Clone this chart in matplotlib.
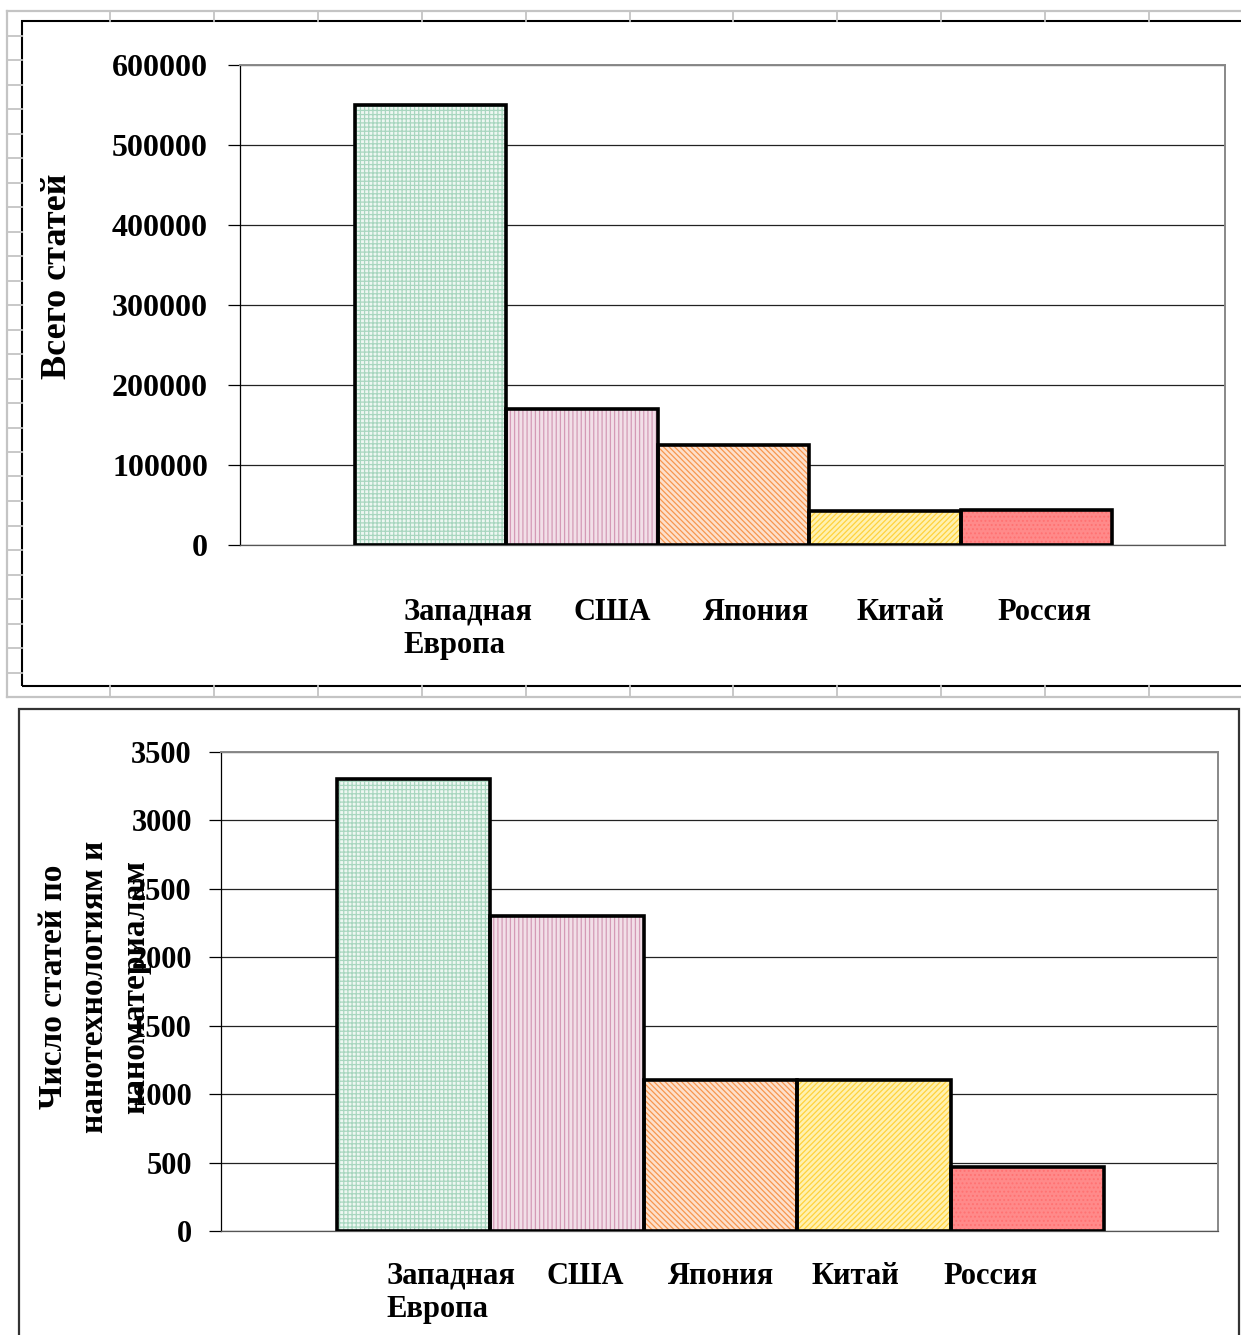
import matplotlib
matplotlib.use('Agg')
import matplotlib.pyplot as plt
from matplotlib.patches import Rectangle
from matplotlib.lines import Line2D
import numpy as np

plt.rcParams['font.family'] = 'Liberation Serif'
plt.rcParams['font.weight'] = 'bold'
plt.rcParams['hatch.linewidth'] = 0.9

# data
countries = ['Западная\nЕвропа', 'США', 'Япония', 'Китай', 'Россия']
total_articles = [550000, 170000, 125000, 42000, 44000]
nano_articles = [3300, 2300, 1100, 1100, 470]

top_ylabel = 'Всего статей'
bottom_ylabel = 'Число статей по\nнанотехнологиям и\nнаноматериалам'

# excel-like pattern fills: (background, pattern colour, hatch)
fills = [
    ('#eef7f2', '#a8d6bf', '++++'),
    ('#f2dfe8', '#d49ab6', '||||'),
    ('#fde0cc', '#f7964f', '\\\\\\\\\\\\'),
    ('#fff1b0', '#ffd23c', '//////'),
    ('#ff8a8a', '#ff7272', '....'),
]

W, H = 1241, 1335
fig = plt.figure(figsize=(W / 100, H / 100), dpi=100)


def px_line(x0, y0, x1, y1, **kw):
    # line in pixel coords (y from top)
    fig.add_artist(Line2D([x0 / W, x1 / W], [1 - y0 / H, 1 - y1 / H],
                          transform=fig.transFigure, **kw))


def px_rect(x0, y0, x1, y1, **kw):
    fig.add_artist(Rectangle((x0 / W, 1 - y1 / H), (x1 - x0) / W, (y1 - y0) / H,
                             transform=fig.transFigure, fill=False, **kw))


# spreadsheet cells around the first chart
grid_c = '#c4c4c4'
px_line(7, 11, W + 5, 11, color=grid_c, lw=1.6)
px_line(7, 697, W + 5, 697, color=grid_c, lw=1.6)
px_line(7, 11, 7, 697, color=grid_c, lw=1.6)
for k in range(1, 28):
    y = 11 + 24.5 * k
    px_line(7, y, 22, y, color=grid_c, lw=1.3)
for k in range(11):
    x = 110 + 103.9 * k
    px_line(x, 11, x, 21, color=grid_c, lw=1.3)
    px_line(x, 686, x, 697, color=grid_c, lw=1.3)

# chart frames
px_rect(22, 21, W + 20, 686, edgecolor='black', lw=1.5)
px_rect(19, 709, 1239, H + 20, edgecolor='#333333', lw=1.6)


def draw_chart(ax, values, ylim, step, label_shift, label_squeeze, ytick_size, ytick_pad, xpad):
    x = np.arange(len(values))
    for xi, v, (bg, pc, h) in zip(x, values, fills):
        ax.bar(xi, v, width=1.0, color=bg, edgecolor=pc, hatch=h, linewidth=0, zorder=2)
    ax.bar(x, values, width=1.0, fill=False, edgecolor='black', linewidth=2.6, zorder=3)
    ax.set_xlim(-1.257, len(values) - 0.5 + 0.743)
    ax.set_ylim(0, ylim)
    ax.set_yticks(np.arange(0, ylim + 1, step))
    ax.yaxis.grid(True, color='#222222', lw=0.9, zorder=0)
    ax.set_axisbelow(True)
    ax.tick_params(axis='y', direction='out', length=9, width=0.9, pad=ytick_pad,
                   labelsize=ytick_size)
    for t in ax.get_yticklabels():
        t.set_fontweight('bold')
    # excel squeezes the category labels a bit towards the middle
    mid = (len(values) - 1) / 2
    ax.set_xticks(mid + (x - mid) * label_squeeze + label_shift)
    ax.set_xticklabels(countries, fontsize=22, fontweight='bold', ha='center',
                       multialignment='left', linespacing=1.2)
    ax.tick_params(axis='x', length=0, pad=xpad)
    for s in ['top', 'right']:
        ax.spines[s].set_color('#888888')
        ax.spines[s].set_linewidth(1.4)
    ax.spines['left'].set_color('black')
    ax.spines['left'].set_linewidth(0.9)
    ax.spines['bottom'].set_color('#555555')
    ax.spines['bottom'].set_linewidth(0.9)
    return ax


ax1 = fig.add_axes([240 / W, 1 - 545 / H, 985 / W, 480 / H])
draw_chart(ax1, total_articles, 600000, 100000, 0.15, 0.95, 23, 14, 38)
ax1.set_ylabel(top_ylabel, fontsize=26, fontweight='bold')
ax1.yaxis.set_label_coords(-0.1685, 0.56)

ax2 = fig.add_axes([221 / W, 1 - 1231 / H, 997 / W, 479 / H])
draw_chart(ax2, nano_articles, 3500, 500, 0.0, 0.88, 22, 12, 22)
ax2.set_ylabel(bottom_ylabel, fontsize=24, fontweight='bold', linespacing=1.42,
               multialignment='center')
ax2.yaxis.set_label_coords(-0.0700, 0.51)

fig.savefig('out.png', dpi=100)
